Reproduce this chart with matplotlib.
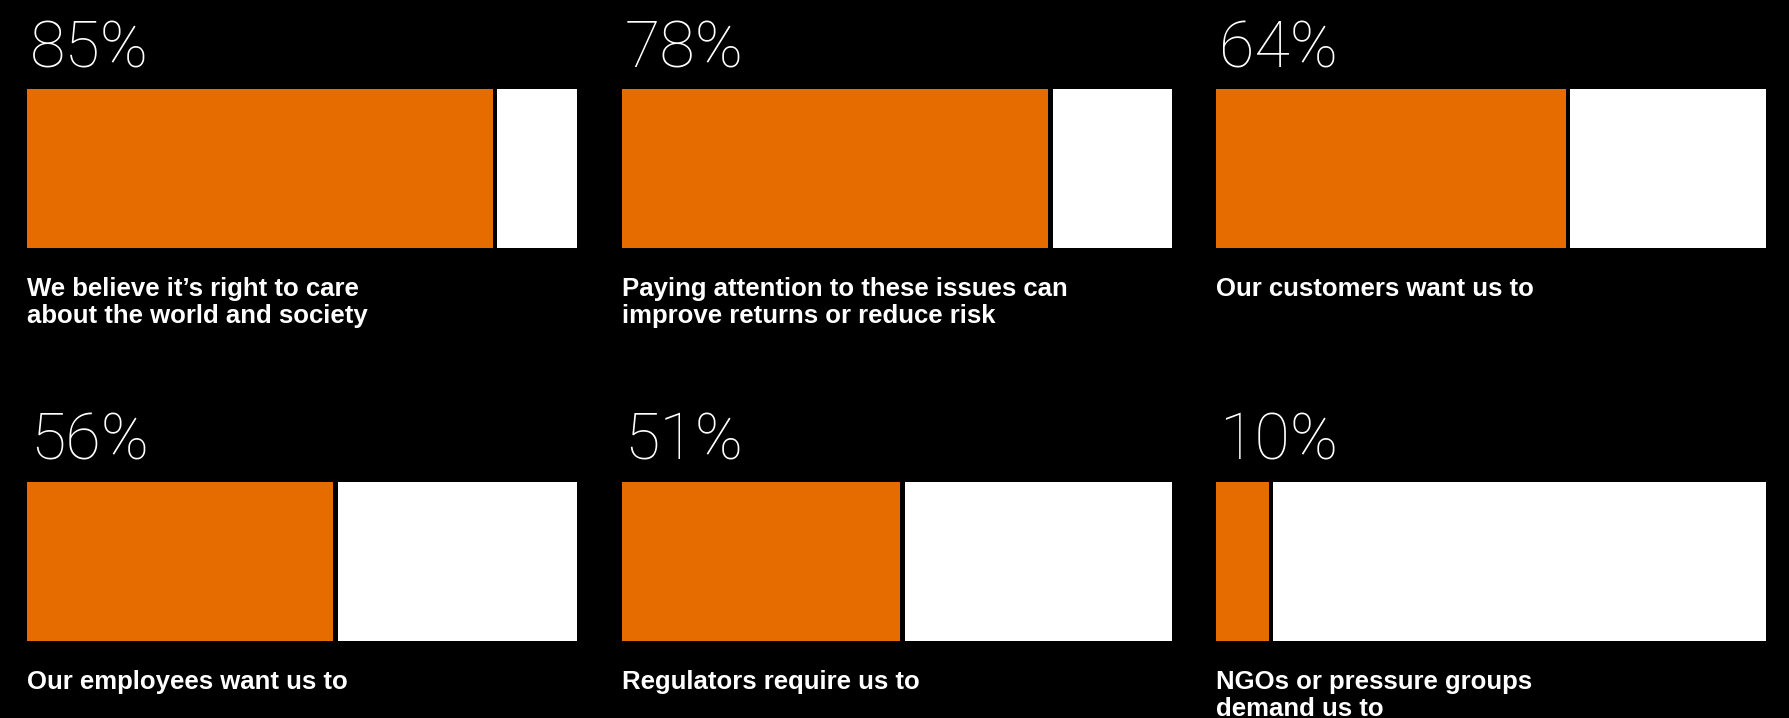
import matplotlib
matplotlib.use("Agg")
import matplotlib.pyplot as plt

# share of respondents giving each reason
reasons = [
    "We believe it\u2019s right to care\nabout the world and society",
    "Paying attention to these issues can\nimprove returns or reduce risk",
    "Our customers want us to",
    "Our employees want us to",
    "Regulators require us to",
    "NGOs or pressure groups\ndemand us to",
]
shares = [85, 78, 64, 56, 51, 10]

ORANGE = "#E66C00"
W, H = 1789, 718

fig = plt.figure(figsize=(W / 100, H / 100), dpi=100, facecolor="black")

# panel geometry in pixels
lefts = [27.4, 621.8, 1216.0]
tops = [89.0, 481.5]
bw, bh = 550.0, 159.0
gap = 0.85  # black separator centred on the value, in percent units

for i, (label, v) in enumerate(zip(reasons, shares)):
    r, c = divmod(i, 3)
    ax = fig.add_axes([lefts[c] / W, (H - tops[r] - bh) / H, bw / W, bh / H])
    ax.set_facecolor("black")
    ax.barh(0, v - gap / 2, height=1, color=ORANGE, linewidth=0)
    ax.barh(0, 100 - v - gap / 2, left=v + gap / 2, height=1, color="white", linewidth=0)
    ax.set_xlim(0, 100)
    ax.set_ylim(-0.5, 0.5)
    ax.axis("off")

    ax.text(0.005, 1 + 22 / bh, f"{v}%", transform=ax.transAxes, ha="left", va="baseline",
            color="white", fontsize=46.5, family="Roboto", fontweight=250)
    ax.text(0.0, -29 / bh, label, transform=ax.transAxes, ha="left", va="top",
            color="white", fontsize=18.5, family="Liberation Sans", fontweight="bold",
            linespacing=1.16)

fig.savefig("out.png", facecolor="black")
